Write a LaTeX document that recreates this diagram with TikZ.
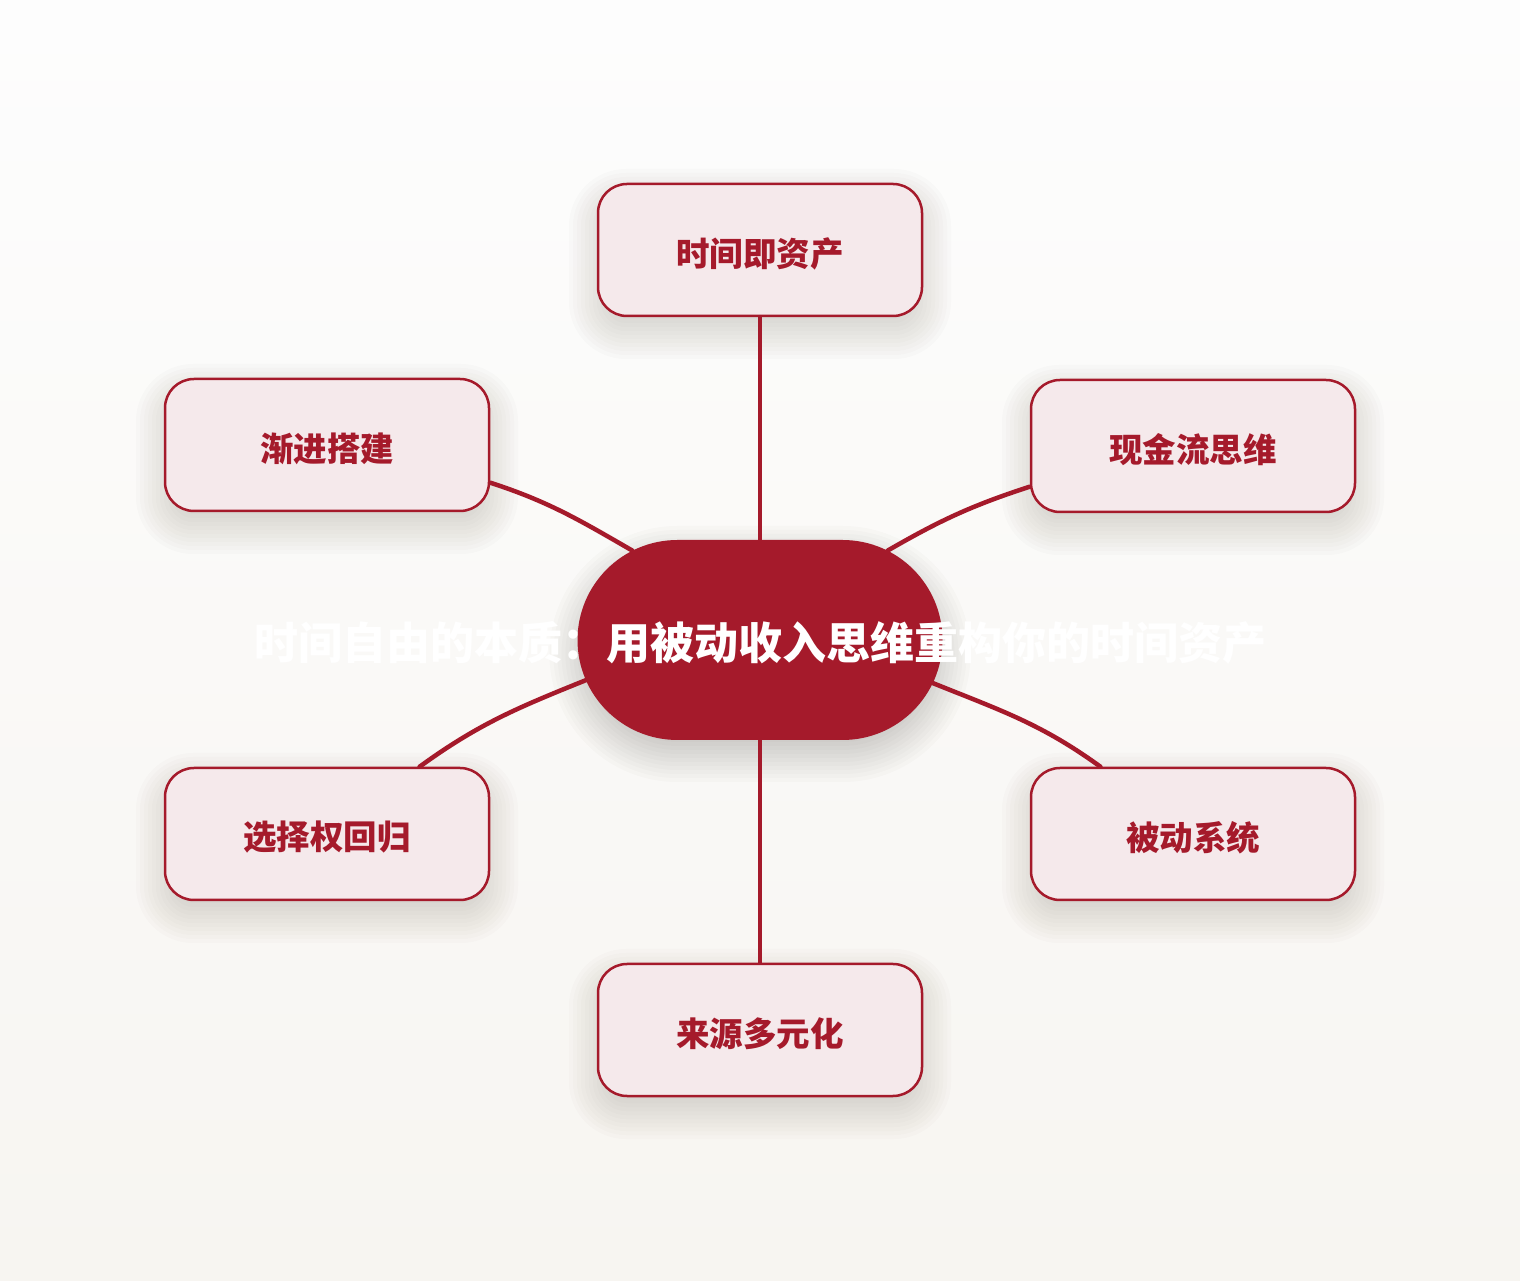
\documentclass[tikz,border=0pt]{standalone}
\usepackage{fontspec}
\newfontfamily\cjk{Noto Sans CJK SC}
\usetikzlibrary{shapes.misc}
\definecolor{bgtop}{HTML}{FDFDFD}
\definecolor{bgbot}{HTML}{F7F5F1}
\definecolor{crimson}{HTML}{A51A2B}
\definecolor{boxfill}{HTML}{F5E9EB}
\definecolor{shadowtone}{HTML}{3A3428}
\newcommand{\lowered}[1]{\raisebox{-3.5pt}[\height][\depth]{#1}}
\tikzset{
  topic/.style={draw=crimson, line width=2.5pt, fill=boxfill, rounded corners=29pt,
    minimum width=324pt, minimum height=132pt, inner sep=0pt,
    text=crimson, font=\cjk\bfseries\fontsize{33.5}{40}\selectfont},
  hub/.style={rounded rectangle, fill=crimson, minimum width=365pt, minimum height=200pt, inner sep=0pt},
  hubtitle/.style={text=white, font=\cjk\bfseries\fontsize{44}{52}\selectfont, inner sep=0pt},
  link/.style={draw=crimson, line width=4.5pt, line cap=round},
  shadowlayer/.style={fill=shadowtone, fill opacity=#1}
}
% soft shadow: centre x, centre y, width, height, corner radius, opacity per layer
\newcommand{\softshade}[6]{%
  \foreach \i in {0,...,14}{%
    \pgfmathsetmacro{\ee}{28-4*\i}%
    \pgfmathsetmacro{\rr}{max(#5+\ee,1)}%
    \fill[shadowlayer=#6, rounded corners=\rr pt]
      ({#1-#3/2-\ee},{#2-14-#4/2-\ee}) rectangle ({#1+#3/2+\ee},{#2-14+#4/2+\ee});
  }%
}
\begin{document}
\begin{tikzpicture}[x=1pt,y=1pt]
\useasboundingbox (0,0) rectangle (1520,1280);
\shade[top color=bgtop, bottom color=bgbot] (0,0) rectangle (1520,1280);

% shadows
\softshade{760}{640}{365}{200}{100}{0.018}
\softshade{760}{1030}{326}{134}{29}{0.014}
\softshade{760}{250}{326}{134}{29}{0.014}
\softshade{327}{835}{326}{134}{29}{0.014}
\softshade{327}{446}{326}{134}{29}{0.014}
\softshade{1193}{834}{326}{134}{29}{0.014}
\softshade{1193}{446}{326}{134}{29}{0.014}

\node[hub] (c) at (760,640) {};
\node[topic] (t)  at (760,1030) {\lowered{时间即资产}};
\node[topic] (b)  at (760,250)  {\lowered{来源多元化}};
\node[topic] (lt) at (327,835)  {\lowered{渐进搭建}};
\node[topic] (lb) at (327,446)  {\lowered{选择权回归}};
\node[topic] (rt) at (1193,834) {\lowered{现金流思维}};
\node[topic] (rb) at (1193,446) {\lowered{被动系统}};

\draw[link] (c) -- (t);
\draw[link] (c) -- (b);
\draw[link] (c.145) to[out=150,in=-18] (lt.-13);
\draw[link] (c.35) to[out=30,in=198] (rt.194);
\draw[link] (c.193.5) to[out=202,in=36] (lb.36);
\draw[link] (c.-14.7) to[out=-22,in=144] (rb.144);

\node[hubtitle] (title) at ([yshift=-3pt]c.center) {时间自由的本质：用被动收入思维重构你的时间资产};
\end{tikzpicture}
\end{document}
